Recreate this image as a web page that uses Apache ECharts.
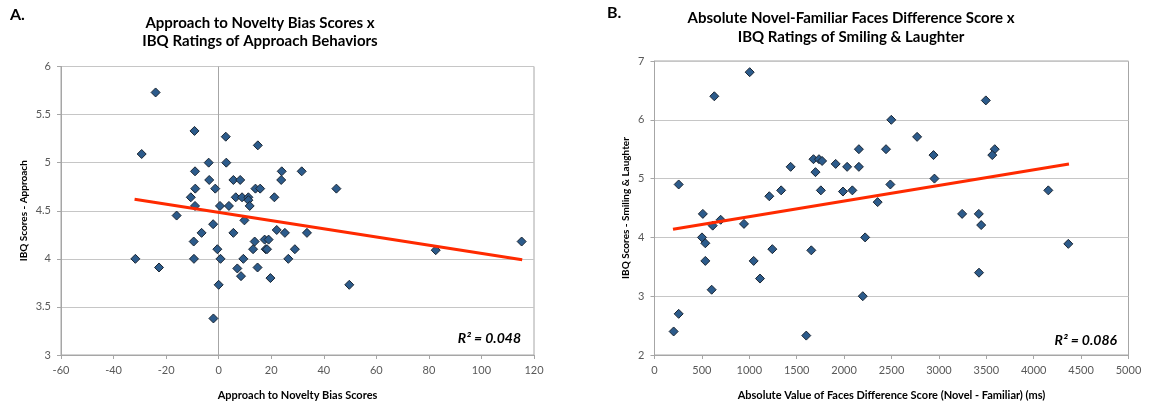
<!DOCTYPE html>
<html>
<head>
<meta charset="utf-8">
<script src="https://cdn.jsdelivr.net/npm/echarts@6/dist/echarts.min.js"></script>
<style>
html,body{margin:0;padding:0;background:#fff;}
#chart{width:1149px;height:408px;}
</style>
</head>
<body>
<div id="chart"></div>
<script>
// Panel A: Approach to Novelty Bias Scores (x) vs IBQ Approach (y)
const approachX = [-24.0,-29.3,-9.2,2.7,14.9,-3.8,2.9,-9.0,24.0,31.6,-3.6,5.6,8.2,23.8,-8.9,-1.3,14.0,15.8,44.8,-10.6,6.5,8.9,11.3,11.3,21.2,-9.0,0.5,3.9,11.8,-16.0,9.8,-2.1,22.1,-6.5,5.6,25.2,33.6,-9.5,13.7,17.5,19.0,-0.5,13.1,17.9,18.4,29.0,-31.7,-9.4,0.7,9.4,26.5,-22.7,7.1,14.8,8.5,19.7,0.0,49.7,-2.0,82.6,115.3];
const approachY = [5.73,5.09,5.33,5.27,5.18,5.00,5.00,4.91,4.91,4.91,4.82,4.82,4.82,4.82,4.73,4.73,4.73,4.73,4.73,4.64,4.64,4.64,4.64,4.61,4.64,4.55,4.55,4.55,4.55,4.45,4.40,4.36,4.30,4.27,4.27,4.27,4.27,4.18,4.18,4.20,4.20,4.10,4.10,4.10,4.10,4.10,4.00,4.00,4.00,4.00,4.00,3.91,3.90,3.91,3.82,3.80,3.73,3.73,3.38,4.09,4.18];
const trendAX = [-32, 115.5];
const trendAY = [4.62, 3.99];
const xTicksA = [-60,-40,-20,0,20,40,60,80,100,120];
const yTicksA = [3,3.5,4,4.5,5,5.5,6];

// Panel B: Absolute faces difference score (x) vs IBQ Smiling & Laughter (y)
const facesX = [1004,631,3495,2498,2770,2156,2442,3589,3563,2943,1677,1735,1768,1911,1436,2032,2156,1698,2953,255,2488,1336,1755,2087,1988,4154,1211,2354,510,3245,3421,698,944,614,3446,501,2222,536,4365,1243,1654,536,1046,3423,1113,603,2197,255,202,1601];
const facesY = [6.81,6.40,6.33,6.00,5.71,5.50,5.50,5.50,5.40,5.40,5.33,5.33,5.30,5.25,5.20,5.20,5.20,5.11,5.00,4.90,4.90,4.80,4.80,4.80,4.78,4.80,4.70,4.60,4.40,4.40,4.40,4.30,4.23,4.20,4.21,4.00,4.00,3.90,3.89,3.80,3.78,3.60,3.60,3.40,3.30,3.11,3.00,2.70,2.40,2.33];
const trendBX = [195, 4372];
const trendBY = [4.14, 5.25];
const xTicksB = [0,500,1000,1500,2000,2500,3000,3500,4000,4500,5000];
const yTicksB = [2,3,4,5,6,7];

const titleA = 'Approach to Novelty Bias Scores x\nIBQ Ratings of Approach Behaviors';
const titleB = 'Absolute Novel-Familiar Faces Difference Score x\nIBQ Ratings of Smiling & Laughter';
const r2A = 'R\u00B2 = 0.048';
const r2B = 'R\u00B2 = 0.086';

const zip = (xs, ys) => xs.map((x, i) => [x, ys[i]]);

const FONT = 'Lato, "Open Sans", sans-serif';
const gridBorder = '#a6a6a6';
const gridLine = '#c6c6c6';
const tickColor = '#595959';
const markerFill = '#2c5b8b';
const markerBorder = '#1b2633';
const trendColor = '#ff2a00';

function xAxisCfg(gridIndex, ticks, name, nameGap) {
  return {
    type: 'value', gridIndex, name, nameLocation: 'middle', nameGap,
    nameTextStyle: {fontFamily: FONT, fontWeight: 'bold', fontSize: 11, color: '#000'},
    min: ticks[0], max: ticks[ticks.length-1], interval: ticks[1]-ticks[0],
    axisLine: {show: true, onZero: false, lineStyle: {color: gridBorder, width: 1}},
    axisTick: {show: true, length: 4, lineStyle: {color: gridBorder}},
    axisLabel: {fontFamily: FONT, fontSize: 11, color: tickColor, margin: 10, formatter: v => String(v)},
    splitLine: {show: false}
  };
}
function yAxisCfg(gridIndex, ticks, name, nameGap) {
  return {
    type: 'value', gridIndex, name, nameLocation: 'middle', nameGap,
    nameTextStyle: {fontFamily: FONT, fontWeight: 'bold', fontSize: 10, color: '#000'},
    min: ticks[0], max: ticks[ticks.length-1], interval: ticks[1]-ticks[0],
    axisLine: {show: true, onZero: false, lineStyle: {color: gridBorder, width: 1}},
    axisTick: {show: true, length: 4, lineStyle: {color: gridBorder}},
    axisLabel: {fontFamily: FONT, fontSize: 11, color: tickColor, margin: 10, formatter: v => String(v)},
    splitLine: {show: true, lineStyle: {color: gridLine, width: 1}}
  };
}
function scatterCfg(idx, data, withZeroLine) {
  const s = {
    type: 'scatter', xAxisIndex: idx, yAxisIndex: idx, data,
    symbol: 'diamond', symbolSize: 9, z: 3,
    itemStyle: {color: markerFill, borderColor: markerBorder, borderWidth: 1, opacity: 1},
    silent: true
  };
  if (withZeroLine) {
    s.markLine = {
      silent: true, symbol: ['none','none'], label: {show: false},
      lineStyle: {color: gridBorder, type: 'solid', width: 1},
      data: [{xAxis: 0}], animation: false, z: 1
    };
  }
  return s;
}
function trendCfg(idx, data) {
  return {
    type: 'line', xAxisIndex: idx, yAxisIndex: idx, data,
    showSymbol: false, symbol: 'none', z: 4,
    lineStyle: {color: trendColor, width: 3}, silent: true
  };
}

const chart = echarts.init(document.getElementById('chart'), null, {renderer: 'canvas'});
chart.setOption({
  animation: false,
  backgroundColor: '#ffffff',
  grid: [
    {left: 61, right: 615, top: 66.5, bottom: 53, show: true, borderColor: gridBorder, borderWidth: 1, backgroundColor: 'transparent'},
    {left: 654.5, right: 20.5, top: 61, bottom: 53, show: true, borderColor: gridBorder, borderWidth: 1, backgroundColor: 'transparent'}
  ],
  xAxis: [
    xAxisCfg(0, xTicksA, 'Approach to Novelty Bias Scores', 35),
    xAxisCfg(1, xTicksB, 'Absolute Value of Faces Difference Score (Novel - Familiar) (ms)', 35)
  ],
  yAxis: [
    yAxisCfg(0, yTicksA, 'IBQ Scores - Approach', 32),
    yAxisCfg(1, yTicksB, 'IBQ Scores - Smiling & Laughter', 24)
  ],
  series: [
    scatterCfg(0, zip(approachX, approachY), true),
    trendCfg(0, zip(trendAX, trendAY)),
    scatterCfg(1, zip(facesX, facesY), false),
    trendCfg(1, zip(trendBX, trendBY))
  ],
  graphic: [
    {type: 'text', left: 10, top: 7, style: {text: 'A.', font: 'bold 16px ' + FONT, fill: '#000'}},
    {type: 'text', left: 607, top: 5, style: {text: 'B.', font: 'bold 16px ' + FONT, fill: '#000'}},
    {type: 'text', x: 260, y: 14, style: {text: titleA, font: 'bold 15px ' + FONT, fill: '#000', align: 'center', lineHeight: 18}},
    {type: 'text', x: 851, y: 9, style: {text: titleB, font: 'bold 15px ' + FONT, fill: '#000', align: 'center', lineHeight: 19}},
    {type: 'text', x: 521, y: 338, style: {text: r2A, font: 'italic bold 14px ' + FONT, fill: '#000', align: 'right', verticalAlign: 'middle'}},
    {type: 'text', x: 1117, y: 340, style: {text: r2B, font: 'italic bold 14px ' + FONT, fill: '#000', align: 'right', verticalAlign: 'middle'}}
  ]
});
</script>
</body>
</html>
